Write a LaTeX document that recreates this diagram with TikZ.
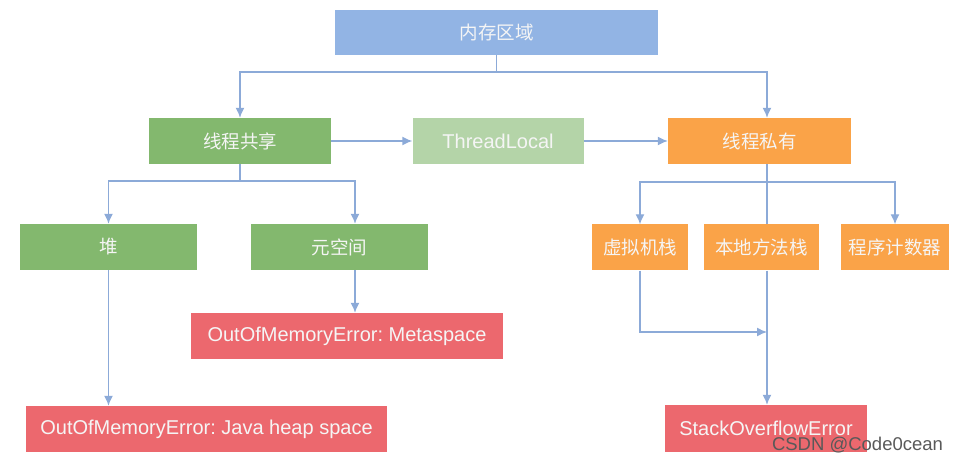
\documentclass[tikz,border=0pt]{standalone}
\usepackage{fontspec}
\setmainfont{Liberation Sans}
\newfontfamily\cjk{Noto Sans CJK SC}
\usepackage{xcolor}
\usepackage{tikz}
\usetikzlibrary{arrows,arrows.meta,backgrounds}
\frenchspacing

\definecolor{memblue}{RGB}{146,180,228}
\definecolor{sharegreen}{RGB}{131,184,110}
\definecolor{tlgreen}{RGB}{180,212,168}
\definecolor{privorange}{RGB}{250,163,72}
\definecolor{errred}{RGB}{236,104,110}
\definecolor{linkblue}{RGB}{140,170,216}

\begin{document}
\begin{tikzpicture}[>={Latex[length=10pt,width=9pt]} , x = 1pt , y = -1pt ,
            box/.style = {rectangle, inner sep=0pt, minimum height=46pt, text=white!96!black},
            zh/.style = {box, font=\cjk\fontsize{18.5}{22}\selectfont},
            en/.style = {box, font=\fontsize{20}{24}\selectfont},
            link/.style = {draw=linkblue, line width=1.4pt}]
            \useasboundingbox (0,0) rectangle (959,465);

            \node[zh, fill=memblue, minimum width=323pt, minimum height=45pt] (mem) at (496.5,32.5) {内存区域};
            \node[zh, fill=sharegreen, minimum width=182pt] (share) at (240,141) {线程共享};
            \node[en, fill=tlgreen, minimum width=171pt] (tl) at (498,141) {ThreadLocal};
            \node[zh, fill=privorange, minimum width=183pt] (priv) at (759.5,141) {线程私有};

            \node[zh, fill=sharegreen, minimum width=177pt] (heap) at (108.5,247) {堆};
            \node[zh, fill=sharegreen, minimum width=177pt] (meta) at (339.5,247) {元空间};
            \node[en, fill=errred, minimum width=312pt] (metaerr) at (347,336) {OutOfMemoryError: Metaspace};
            \node[en, fill=errred, minimum width=361pt] (heaperr) at (206.5,429) {OutOfMemoryError: Java heap space};

            \node[zh, fill=privorange, minimum width=96pt] (vm) at (640,247.5) {虚拟机栈};
            \node[zh, fill=privorange, minimum width=115pt] (native) at (761.5,247.5) {本地方法栈};
            \node[zh, fill=privorange, minimum width=108pt] (pc) at (895,247.5) {程序计数器};
            \node[en, fill=errred, minimum width=202pt, minimum height=47pt] (soe) at (766,428.5) {StackOverflowError};

            \coordinate (topbus) at (0,72);
            \coordinate (sharebus) at (0,181);
            \coordinate (privbus) at (0,182);
            \coordinate (vmbus) at (0,332);
            \coordinate (privline) at ([xshift=7.5pt]priv.south);

            \draw[link] (mem.south) -- (mem.south |- topbus);
            \draw[link,->] (mem.south |- topbus) -| (share.north);
            \draw[link,->] (mem.south |- topbus) -| ([xshift=7.5pt]priv.north);
            \draw[link,->] (share) -- (tl);
            \draw[link,->] (tl) -- (priv);

            \draw[link] (share.south) -- (share.south |- sharebus);
            \draw[link,->] (share.south |- sharebus) -| (heap.north);
            \draw[link,->] (share.south |- sharebus) -| ([xshift=15.5pt]meta.north);
            \draw[link,->] ([xshift=15.5pt]meta.south) -- ([xshift=15.5pt]meta.south |- metaerr.north);
            \draw[link,->] (heap.south) -- (heap.south |- heaperr.north);

            \draw[link] (privline) -- (privline |- native.north);
            \draw[link,->] (privline |- privbus) -| (vm.north);
            \draw[link,->] (privline |- privbus) -| (pc.north);
            \draw[link,->] (privline |- native.south) -- (privline |- soe.north);
            \draw[link,->] (vm.south) |- (privline |- vmbus);

            \node[text=black!65, font=\fontsize{18.5}{22}\selectfont] (mark) at (857.5,445) {CSDN @Code0cean};
        \end{tikzpicture}
\end{document}
